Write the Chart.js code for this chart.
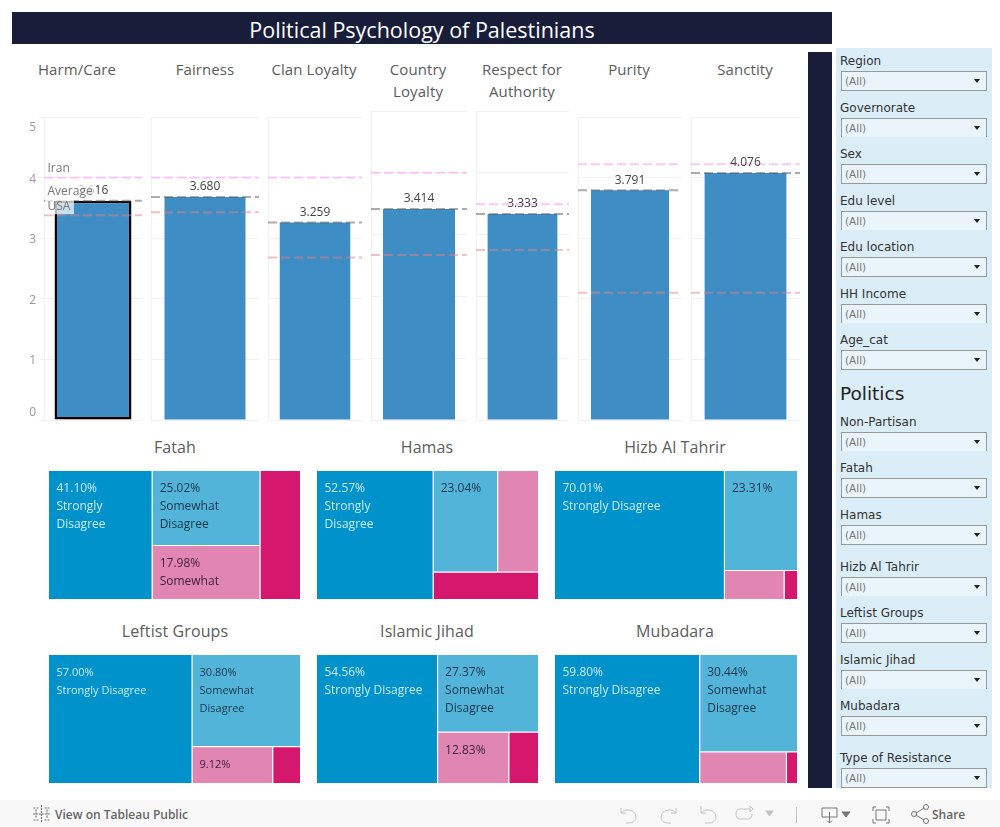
<!DOCTYPE html>
<html>
<head>
<meta charset="utf-8">
<title>Political Psychology of Palestinians</title>
<script src="https://cdn.jsdelivr.net/npm/chart.js@4/dist/chart.umd.min.js"></script>
<style>
html, body { margin: 0; padding: 0; background: #fff; overflow: hidden; }
#page { position: relative; width: 1000px; height: 827px; font-family: "Open Sans", sans-serif; }
#page canvas { position: absolute; }
.bloco { position: absolute; background: #181d3a; }
#titulo { left: 12px; top: 12px; width: 820px; height: 32px; line-height: 35px; color: #fff; font-size: 21.5px; text-align: center; }
.tit { position: absolute; width: 140px; margin-left: -70px; text-align: center; color: #5c5c5c; font-size: 15px; line-height: 22px; letter-spacing: .1px; }
.tit2 { font-size: 16px; }
#filtros { position: absolute; left: 836px; top: 48px; width: 156px; height: 740px; background: #dbeef8; font-family: "DejaVu Sans", sans-serif; }
.nome { position: absolute; left: 4px; font-size: 12px; color: #333; line-height: 14px; white-space: nowrap; }
.caixa { position: absolute; left: 5px; width: 144px; height: 18px; border: 1px solid #999; background: #e9f5fb; font-size: 10.5px; line-height: 19px; color: #777; text-indent: 3px; }
.caixa.corte { border-bottom: none; }
.caixa:after { content: ""; position: absolute; right: 6px; top: 7px; border-left: 3.5px solid transparent; border-right: 3.5px solid transparent; border-top: 4px solid #222; }
#politics { position: absolute; left: 4px; top: 335px; font-size: 18.5px; line-height: 22px; color: #222; }
#rodape { position: absolute; left: 0; top: 800px; width: 1000px; height: 27px; background: #f8f8f8; color: #666; font-size: 12px; }
#rodape span { position: absolute; top: 6px; font-weight: 600; }
#rodape svg { position: absolute; left: 0; top: 0; }
</style>
</head>
<body>
<div id="page">
  <div id="titulo" class="bloco">Political Psychology of Palestinians</div>
  <div class="bloco" style="left:808px;top:52px;width:24px;height:736px"></div>
  <div id="filtros"><div id="politics">Politics</div></div>
  <div id="rodape">
    <svg width="1000" height="27" fill="none" stroke="#777" stroke-width="1">
      <path d="M41.5 5v18M33 14h18M36 9.5v9M47 9.5v9M33.5 8h5M44.5 8h5M33.5 20h5M44.5 20h5" stroke-width="1.2" stroke-dasharray="2 1"/>
      <g stroke="#c4c4c4">
        <path d="M621 8v5h5M621 13c3-5 15-4 15 4 0 4-3 6-7 6h-3"/>
        <path d="M676 8v5h-5M676 13c-3-5-15-4-15 4 0 4 3 6 7 6h3"/>
        <path d="M701 6v7h5M701 13c3-5 15-4 15 4 0 4-3 6-7 6h-4"/>
        <path d="M750 9h-10c-3 0-4 2-4 5s1 5 4 5h8c3 0 4-2 4-5M750 6v6l3-3z"/>
        <path d="M766 11h7l-3.500 5z" fill="#c4c4c4"/>
        <path d="M796.500 7v16"/>
      </g>
      <path d="M822 8h15v9h-15zM829.500 12v11M827 20.500l2.500 2.500 2.500-2.500"/>
      <path d="M842 12h8l-4 5z" fill="#777"/>
      <path d="M873 11v-4h3M886 7h3v4M889 19v4h-3M876 23h-3v-4M876 10h10v10h-10z"/>
      <path d="M916 13l8-5M916 15l8 5"/>
      <circle cx="914" cy="14" r="2.500"/><circle cx="926" cy="7" r="2.500"/><circle cx="926" cy="21" r="2.500"/>
    </svg>
    <span style="left:55px">View on Tableau Public</span>
    <span style="left:932px">Share</span>
  </div>
</div>
<script>
Chart.defaults.font.family = '"Open Sans", sans-serif';
Chart.defaults.animation = false;

// moral foundations
var fundacoes = ['Harm/Care', 'Fairness', 'Clan Loyalty', 'Country Loyalty', 'Respect for Authority', 'Purity', 'Sanctity'];
var mediaValores = [3.616, 3.680, 3.259, 3.414, 3.333, 3.791, 4.076];
var iranValores = [4.0, 4.0, 4.0, 4.0, 3.49, 4.22, 4.22];
var usaValores = [3.38, 3.43, 2.68, 2.67, 2.75, 2.10, 2.10];
var eixoTicks = [0, 1, 2, 3, 4, 5];

// treemap shares, a nested list means the cell group is split the other way
var fatahPartes = [41.10, [25.02, 17.98], 15.90];
var hamasPartes = [52.57, [[23.04, 14.40], 9.99]];
var hizbPartes = [70.01, [23.31, [5.50, 1.18]]];
var leftistPartes = [57.00, [30.80, [9.12, 3.08]]];
var jihadPartes = [54.56, [27.37, [12.83, 5.24]]];
var mubadaraPartes = [59.80, [30.44, [8.70, 1.06]]];

var fatahTextos = [['41.10%', 'Strongly', 'Disagree'], ['25.02%', 'Somewhat', 'Disagree'], ['17.98%', 'Somewhat'], []];
var hamasTextos = [['52.57%', 'Strongly', 'Disagree'], ['23.04%'], [], []];
var hizbTextos = [['70.01%', 'Strongly Disagree'], ['23.31%'], [], []];
var leftistTextos = [['57.00%', 'Strongly Disagree'], ['30.80%', 'Somewhat', 'Disagree'], ['9.12%'], []];
var jihadTextos = [['54.56%', 'Strongly Disagree'], ['27.37%', 'Somewhat', 'Disagree'], ['12.83%'], []];
var mubadaraTextos = [['59.80%', 'Strongly Disagree'], ['30.44%', 'Somewhat', 'Disagree'], [], []];

var filtrosNomes = ['Region', 'Governorate', 'Sex', 'Edu level', 'Edu location', 'HH Income', 'Age_cat',
	'Non-Partisan', 'Fatah', 'Hamas', 'Hizb Al Tahrir', 'Leftist Groups', 'Islamic Jihad', 'Mubadara', 'Type of Resistance'];

var cores = ['#0092cb', '#52b4d9', '#e186b2', '#d5186e'];
var textoCores = ['#cdeaf6', '#17364a', '#42213a', '#fff'];

var pagina = document.getElementById('page');

function novoCanvas(x, y, w, h) {
	var c = document.createElement('canvas');
	c.width = w;
	c.height = h;
	c.style.left = x + 'px';
	c.style.top = y + 'px';
	pagina.appendChild(c);
	return c;
}

function novoTitulo(texto, x, y, classe) {
	var d = document.createElement('div');
	d.className = 'tit ' + (classe || '');
	d.innerHTML = texto;
	d.style.left = x + 'px';
	d.style.top = y + 'px';
	pagina.appendChild(d);
}

// value on top of the bar, and the reference names on the first panel
var rotulosBarra = {
	id: 'rotulosBarra',
	afterDatasetsDraw: function (chart) {
		var ctx = chart.ctx;
		var barra = chart.getDatasetMeta(3).data[0];
		ctx.save();
		ctx.font = '12px "Open Sans"';
		ctx.fillStyle = '#444';
		ctx.textAlign = 'center';
		ctx.textBaseline = 'middle';
		ctx.fillText(chart.data.datasets[3].data[0].y.toFixed(3), barra.x, barra.y - 10);
		if (chart.options.plugins.rotulosBarra.nomes) {
			ctx.textAlign = 'left';
			[0, 1, 2].forEach(function (i) {
				var ds = chart.data.datasets[i];
				var y = chart.scales.y.getPixelForValue(ds.data[0].y) - 9;
				var w = ctx.measureText(ds.label).width;
				ctx.fillStyle = 'rgba(255,255,255,0.72)';
				ctx.fillRect(chart.chartArea.left + 1, y - 8, w + 6, 16);
				ctx.fillStyle = '#777';
				ctx.fillText(ds.label, chart.chartArea.left + 3.5, y);
			});
		}
		ctx.restore();
	}
};

function linhaRef(nome, valor, cor) {
	return {
		type: 'line', label: nome, order: 0,
		data: [{ x: 0, y: valor }, { x: 1, y: valor }],
		borderColor: cor, borderWidth: 2, borderDash: [9, 4], pointRadius: 0, fill: false
	};
}

function graficoBarra(i, x, w, topo) {
	var primeiro = i === 0;
	var esq = primeiro ? 24 : 0;
	var canvas = novoCanvas(x - esq, topo - 1, w + esq, 422 - topo);
	return new Chart(canvas, {
		data: {
			datasets: [
				linhaRef('Iran', iranValores[i], 'rgba(247,170,247,0.65)'),
				linhaRef('Average', mediaValores[i], 'rgba(90,90,90,0.5)'),
				linhaRef('USA', usaValores[i], 'rgba(228,130,130,0.5)'),
				{
					type: 'bar', order: 1, label: fundacoes[i], data: [{ x: 0.5, y: mediaValores[i] }],
					backgroundColor: '#3f8dc5',
					borderColor: primeiro ? '#000' : '#3f8dc5',
					borderWidth: primeiro ? 2.5 : 0,
					borderSkipped: false,
					// a lone bar on a linear axis gets half of the axis as its slot
					barPercentage: primeiro ? 0.785 : 0.75,
					categoryPercentage: 2
				}
			]
		},
		options: {
			responsive: false,
			events: [],
			layout: { padding: { top: 1, bottom: 1, left: primeiro ? 0 : 1 } },
			plugins: { legend: { display: false }, tooltip: { enabled: false }, rotulosBarra: { nomes: primeiro } },
			scales: {
				x: { type: 'linear', display: false, min: 0, max: 1, offset: false },
				y: {
					min: 0, max: 5,
					afterBuildTicks: function (eixo) { eixo.ticks = eixoTicks.map(function (v) { return { value: v }; }); },
					afterFit: function (eixo) {
						if (primeiro) eixo.width = esq;
						eixo.paddingTop = 0;
						eixo.paddingBottom = 0;
					},
					grid: { color: '#f1f1f1', tickLength: 5, drawTicks: primeiro },
					border: { color: '#f1f1f1' },
					ticks: {
						display: primeiro,
						color: '#999',
						padding: 3,
						labelOffset: 1.5,
						font: { size: 12, lineHeight: '18px' },
						// the end labels sit inside the axis, like the original
						callback: function (v) {
							if (v === 5) return [' ', '5'];
							if (v === 0) return ['0', ' '];
							return String(v);
						}
					}
				}
			}
		},
		plugins: [rotulosBarra]
	});
}

// splits the 0-100 square following the shares
function soma(p) {
	return Array.isArray(p) ? p.reduce(function (a, b) { return a + soma(b); }, 0) : p;
}

function dividir(partes, x0, x1, y0, y1, deitado, saida) {
	var total = soma(partes);
	var pos = deitado ? x0 : y0;
	partes.forEach(function (p) {
		var fim = pos + soma(p) / total * ((deitado ? x1 - x0 : y1 - y0));
		var c = deitado ? [pos, fim, y0, y1] : [x0, x1, pos, fim];
		if (Array.isArray(p)) dividir(p, c[0], c[1], c[2], c[3], !deitado, saida);
		else saida.push(c);
		pos = fim;
	});
	return saida;
}

var textoCelula = {
	id: 'textoCelula',
	afterDatasetsDraw: function (chart) {
		var o = chart.options.plugins.textoCelula;
		var ctx = chart.ctx;
		ctx.save();
		ctx.font = o.tamanho + 'px "Open Sans"';
		ctx.textBaseline = 'middle';
		o.celulas.forEach(function (c, i) {
			var x = chart.scales.x.getPixelForValue(c[0]) + 7.5;
			var y = chart.scales.y.getPixelForValue(c[2]) + 18;
			ctx.fillStyle = textoCores[i];
			o.textos[i].forEach(function (t, n) {
				ctx.fillText(t, x, y + n * 18);
			});
		});
		ctx.restore();
	}
};

function graficoMapa(partes, textos, x, y, w, h, tamanho) {
	var celulas = dividir(partes, 0, 100, 0, 100, true, []);
	var datasets = [];
	celulas.forEach(function (c, i) {
		datasets.push({
			label: 'celula ' + i, order: 1,
			data: [{ x: c[0], y: c[2] }, { x: c[1], y: c[2] }],
			backgroundColor: cores[i], borderWidth: 0, pointRadius: 0,
			fill: { value: c[3] }
		});
		// white divider only on the inner edges of the cell
		if (c[1] < 99.99) {
			datasets.push({
				label: 'divisor x ' + i, order: 0,
				data: [{ x: c[1], y: c[2] }, { x: c[1], y: c[3] }],
				borderColor: '#fff', borderWidth: 1.2, pointRadius: 0, fill: false
			});
		}
		if (c[3] < 99.99) {
			datasets.push({
				label: 'divisor y ' + i, order: 0,
				data: [{ x: c[0], y: c[3] }, { x: c[1], y: c[3] }],
				borderColor: '#fff', borderWidth: 1.2, pointRadius: 0, fill: false
			});
		}
	});
	return new Chart(novoCanvas(x, y, w, h), {
		type: 'line',
		data: { datasets: datasets },
		options: {
			responsive: false,
			events: [],
			plugins: {
				legend: { display: false }, tooltip: { enabled: false },
				textoCelula: { celulas: celulas, textos: textos, tamanho: tamanho }
			},
			scales: {
				x: { type: 'linear', display: false, min: 0, max: 100 },
				y: { type: 'linear', display: false, min: 0, max: 100, reverse: true }
			}
		},
		plugins: [textoCelula]
	});
}

// top titles
novoTitulo('Harm/Care', 77, 58);
novoTitulo('Fairness', 205, 58);
novoTitulo('Clan Loyalty', 314, 58);
novoTitulo('Country<br>Loyalty', 418, 58);
novoTitulo('Respect for<br>Authority', 522, 58);
novoTitulo('Purity', 629, 58);
novoTitulo('Sanctity', 745, 58);

graficoBarra(0, 44, 98, 117);
graficoBarra(1, 150, 109, 117);
graficoBarra(2, 267, 95, 117);
graficoBarra(3, 370, 97, 111);
graficoBarra(4, 475, 94, 111);
graficoBarra(5, 577, 105, 117);
graficoBarra(6, 690, 110, 117);

novoTitulo('Fatah', 175, 436, 'tit2');
novoTitulo('Hamas', 427, 436, 'tit2');
novoTitulo('Hizb Al Tahrir', 675, 436, 'tit2');
novoTitulo('Leftist Groups', 175, 620, 'tit2');
novoTitulo('Islamic Jihad', 427, 620, 'tit2');
novoTitulo('Mubadara', 675, 620, 'tit2');

graficoMapa(fatahPartes, fatahTextos, 49, 471, 251, 128, 12);
graficoMapa(hamasPartes, hamasTextos, 317, 471, 221, 128, 12);
graficoMapa(hizbPartes, hizbTextos, 555, 471, 242, 128, 12);
graficoMapa(leftistPartes, leftistTextos, 49, 655, 251, 128, 11);
graficoMapa(jihadPartes, jihadTextos, 317, 655, 221, 128, 12);
graficoMapa(mubadaraPartes, mubadaraTextos, 555, 655, 242, 128, 12);

// filter column on the right
var filtrosTopo = [71, 118, 164, 211, 257, 304, 350, 432, 478, 525, 577, 623, 670, 716, 768];
var filtrosCorte = [1, 3, 5, 7, 10, 12];
var painel = document.getElementById('filtros');
filtrosNomes.forEach(function (nome, i) {
	var n = document.createElement('div');
	n.className = 'nome';
	n.textContent = nome;
	n.style.top = (filtrosTopo[i] - 48 - 17) + 'px';
	painel.appendChild(n);
	var c = document.createElement('div');
	c.className = 'caixa' + (filtrosCorte.indexOf(i) >= 0 ? ' corte' : '');
	c.textContent = '(All)';
	c.style.top = (filtrosTopo[i] - 48) + 'px';
	painel.appendChild(c);
});
</script>
</body>
</html>
